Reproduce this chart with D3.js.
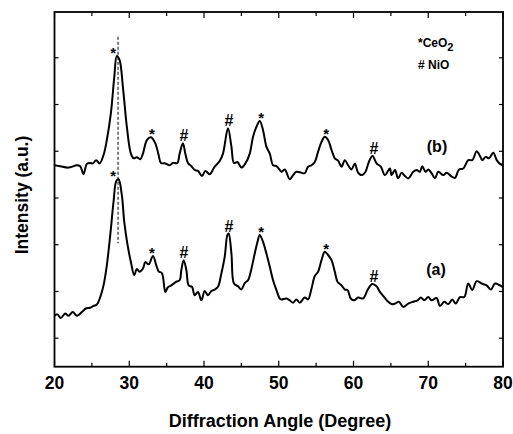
<!DOCTYPE html>
<html lang="en">
<head>
    <title>XRD patterns</title>
    <script src="https://cdn.jsdelivr.net/npm/d3@7"></script>
    <style>
        body { margin: 0; background: #fff; }
        text { font-family: Arial, "Liberation Sans", sans-serif; font-weight: bold; fill: #000; }
    </style>
</head>
<body>
<script>

    var w = 513;
    var h = 434;

    // pattern (b), top trace: [angle, intensity]
    var seriesB = [
        [20.0,370],[20.76,368],[21.87,365],[22.99,370],[23.44,368],[23.88,351],[24.33,373],[24.78,375],
        [25.13,374],[25.58,381],[26.03,374],[26.56,392],[27.0,424],[27.54,481],[28.0,559],[28.34,604],
        [28.71,595],[29.15,538],[29.68,452],[30.22,395],[30.58,385],[31.02,387],[31.48,383],[31.83,395],
        [32.36,424],[32.9,430],[33.49,417],[33.93,392],[34.24,375],[34.83,374],[35.4,370],[35.84,375],
        [36.43,375],[36.74,395],[37.18,417],[37.5,395],[37.85,375],[38.31,368],[38.75,360],[39.19,358],
        [39.73,347],[40.18,358],[40.76,351],[41.43,367],[42.1,379],[42.54,395],[43.21,449],[43.67,410],
        [44.01,375],[44.47,377],[45.0,365],[45.54,374],[46.12,395],[46.56,431],[47.01,452],[47.46,465],
        [47.9,445],[48.35,410],[48.8,395],[49.24,370],[49.69,368],[50.13,360],[50.36,356],[50.8,361],
        [51.47,340],[51.92,349],[52.37,356],[53.04,354],[53.48,353],[53.92,367],[54.38,370],[54.82,377],
        [55.26,399],[55.72,420],[56.16,431],[56.6,424],[57.06,403],[57.5,385],[57.94,380],[58.4,367],
        [58.84,381],[59.28,370],[59.74,361],[60.18,374],[60.62,354],[61.16,349],[61.61,356],[62.05,377],
        [62.55,390],[63.09,374],[63.66,367],[64.2,349],[64.87,363],[65.09,349],[65.54,360],[65.98,342],
        [66.43,354],[66.88,347],[67.32,342],[67.99,356],[68.44,360],[68.88,356],[69.19,368],[69.65,356],
        [70.0,361],[70.45,353],[70.89,342],[71.34,356],[72.01,349],[72.46,354],[73.04,347],[73.57,343],
        [74.11,361],[74.68,363],[75.35,381],[75.89,381],[76.48,400],[76.92,390],[77.23,381],[77.68,388],
        [78.13,385],[78.7,397],[79.16,381],[79.6,373],[80.0,370]
    ];

    // pattern (a), bottom trace
    var seriesA = [
        [20.0,48],[20.4,51],[20.84,43],[21.43,53],[21.87,48],[22.45,56],[22.99,48],[23.66,56],
        [24.25,64],[24.78,65],[25.22,69],[25.67,72],[26.12,88],[26.56,113],[27.0,156],[27.46,221],
        [27.9,292],[28.26,336],[28.57,340],[29.01,306],[29.33,249],[29.78,199],[30.22,163],[30.67,135],
        [31.02,148],[31.38,142],[31.83,149],[32.15,163],[32.59,158],[33.17,176],[33.62,156],[33.93,143],
        [34.37,139],[34.83,99],[35.17,109],[35.63,113],[36.3,121],[36.74,124],[36.97,146],[37.28,167],
        [37.64,146],[37.95,113],[38.39,110],[38.75,92],[39.19,99],[39.65,81],[40.09,101],[40.53,92],
        [40.99,101],[41.43,104],[41.87,110],[42.33,139],[42.77,174],[43.13,221],[43.3,224],[43.67,181],
        [44.01,117],[44.55,111],[45.0,104],[45.45,118],[45.89,124],[46.25,142],[46.69,174],[47.15,206],
        [47.46,221],[47.9,206],[48.35,181],[48.8,153],[49.24,124],[49.69,103],[50.13,85],[50.36,83],
        [51.03,85],[51.47,81],[51.92,76],[52.37,83],[52.81,76],[53.48,87],[53.92,83],[54.38,106],
        [54.82,133],[55.26,142],[55.72,167],[56.16,185],[56.6,178],[57.06,167],[57.5,142],[57.86,121],
        [58.4,113],[58.84,104],[59.2,103],[59.64,85],[60.09,81],[60.62,87],[61.29,85],[61.88,103],
        [62.5,116],[63.09,111],[63.53,99],[64.1,88],[64.64,78],[65.09,73],[65.54,74],[66.07,78],
        [66.65,67],[67.32,74],[67.99,78],[68.58,81],[69.02,87],[69.46,81],[70.0,88],[70.45,81],
        [71.12,86],[71.56,69],[72.14,78],[72.68,73],[73.21,83],[73.67,74],[74.24,88],[74.82,88],
        [75.35,117],[75.89,103],[76.48,122],[77.15,117],[77.81,113],[78.39,104],[78.93,117],[79.6,113],
        [80.0,109]
    ];

    // peak marks: angle and symbol (* CeO2, # NiO)
    var peakAngles  = [28.4, 32.9, 37.2, 43.2, 47.5, 56.2, 62.6];
    var peakSymbols = ["*", "*", "#", "#", "*", "*", "#"];

    var xTicks = [20, 30, 40, 50, 60, 70, 80];
    var dashAngle = 28.5;
    var dashRange = [203, 645];

    var margin = {top: 12, right: 10, bottom: 67.3, left: 54.5};

    var svg = d3.select("body")
        .append("svg")
        .attr("width", w)
        .attr("height", h);

    var x = d3.scaleLinear().domain([20, 80]).range([margin.left, w - margin.right]);
    var y = d3.scaleLinear().domain([-61, 698]).range([h - margin.bottom, margin.top]);

    var x0 = x.range()[0], x1 = x.range()[1];
    var y0 = y.range()[0], y1 = y.range()[1];

    // ticks, all pointing inward
    var minorX = d3.range(20, 81, 5);
    var yTicks = d3.range(0, 601, 100);

    var g = svg.append("g").attr("stroke", "#000").attr("stroke-width", 1.2);
    minorX.forEach(function(v){
        var len = (v % 10 === 0) ? 6 : 4;
        g.append("line").attr("x1", x(v)).attr("x2", x(v)).attr("y1", y0).attr("y2", y0 - len);
        g.append("line").attr("x1", x(v)).attr("x2", x(v)).attr("y1", y1).attr("y2", y1 + len);
    });
    yTicks.forEach(function(v){
        g.append("line").attr("x1", x0).attr("x2", x0 + 4).attr("y1", y(v)).attr("y2", y(v));
        g.append("line").attr("x1", x1).attr("x2", x1 - 4).attr("y1", y(v)).attr("y2", y(v));
    });

    // frame
    svg.append("rect")
        .attr("x", x0).attr("y", y1)
        .attr("width", x1 - x0).attr("height", y0 - y1)
        .attr("fill", "none").attr("stroke", "#000").attr("stroke-width", 1.8);

    // x tick labels
    svg.selectAll(".xl").data(xTicks).enter().append("text")
        .attr("x", function(d){ return x(d); })
        .attr("y", 389)
        .attr("text-anchor", "middle")
        .attr("font-size", 17.5)
        .text(function(d){ return d; });

    svg.append("text")
        .attr("x", 280).attr("y", 427)
        .attr("text-anchor", "middle").attr("font-size", 18)
        .text("Diffraction Angle (Degree)");

    svg.append("text")
        .attr("transform", "translate(28,195) rotate(-90)")
        .attr("text-anchor", "middle").attr("font-size", 17.5)
        .text("Intensity (a.u.)");

    // dashed guide at the CeO2 (111) peak
    svg.append("line")
        .attr("x1", x(dashAngle)).attr("x2", x(dashAngle))
        .attr("y1", y(dashRange[1])).attr("y2", y(dashRange[0]))
        .attr("stroke", "#000").attr("stroke-width", 1)
        .attr("stroke-dasharray", "3,2");

    var line = d3.line()
        .x(function(d){ return x(d[0]); })
        .y(function(d){ return y(d[1]); })
        .curve(d3.curveCatmullRom.alpha(0.5));

    [seriesA, seriesB].forEach(function(s){
        svg.append("path").datum(s)
            .attr("d", line)
            .attr("fill", "none")
            .attr("stroke", "#000")
            .attr("stroke-width", 2)
            .attr("stroke-linejoin", "round");
    });

    // peak symbols above each series
    function peakTop(s, a){
        var near = s.filter(function(d){ return Math.abs(d[0] - a) < 0.6; });
        return d3.max(near, function(d){ return d[1]; });
    }
    [seriesA, seriesB].forEach(function(s){
        peakAngles.forEach(function(a, i){
            var sym = peakSymbols[i];
            var top = y(peakTop(s, a));
            svg.append("text")
                .attr("x", x(a) + (i === 0 ? -4 : 1))
                .attr("y", sym === "*" ? top + 2 : top - 2)
                .attr("text-anchor", "middle")
                .attr("font-weight", "normal")
                .attr("font-size", sym === "*" ? 15 : 16)
                .text(sym);
        });
    });

    // series labels
    svg.append("text").attr("x", 437).attr("y", 152).attr("text-anchor", "middle")
        .attr("font-size", 16).text("(b)");
    svg.append("text").attr("x", 436).attr("y", 275).attr("text-anchor", "middle")
        .attr("font-size", 16).text("(a)");

    // legend
    var leg = svg.append("text").attr("x", 418).attr("y", 47).attr("font-size", 12);
    leg.append("tspan").text("*CeO");
    leg.append("tspan").attr("dy", 4).attr("font-size", 11).text("2");
    svg.append("text").attr("x", 418).attr("y", 69).attr("font-size", 12).text("# NiO");

</script>
</body>
</html>
